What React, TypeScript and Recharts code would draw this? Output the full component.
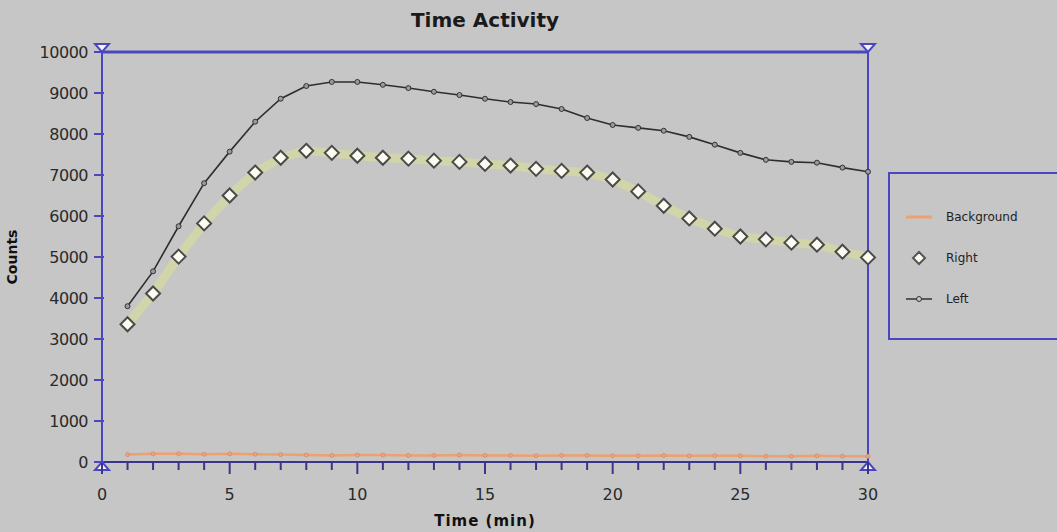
import React from 'react';
import { LineChart, Line, XAxis, YAxis, ReferenceDot, ReferenceLine } from 'recharts';

// time in minutes
const minutes = [1, 2, 3, 4, 5, 6, 7, 8, 9, 10, 11, 12, 13, 14, 15, 16, 17, 18, 19, 20, 21, 22, 23, 24, 25, 26, 27, 28, 29, 30];
const leftCounts = [3800, 4650, 5750, 6800, 7570, 8300, 8860, 9170, 9270, 9270, 9200, 9120, 9030, 8950, 8860, 8780, 8730, 8610, 8390, 8220, 8150, 8080, 7930, 7740, 7540, 7370, 7320, 7300, 7180, 7080];
const rightCounts = [3360, 4110, 5010, 5820, 6500, 7060, 7420, 7590, 7540, 7470, 7420, 7400, 7350, 7320, 7270, 7230, 7150, 7100, 7060, 6890, 6600, 6250, 5940, 5690, 5500, 5430, 5350, 5300, 5130, 4990];
const backgroundCounts = [180, 200, 200, 190, 200, 190, 180, 170, 160, 170, 170, 160, 160, 170, 160, 160, 150, 160, 160, 150, 150, 160, 150, 150, 150, 140, 140, 150, 140, 140];

const xTicks = [0, 1, 2, 3, 4, 5, 6, 7, 8, 9, 10, 11, 12, 13, 14, 15, 16, 17, 18, 19, 20, 21, 22, 23, 24, 25, 26, 27, 28, 29, 30];
const yTicks = [0, 1000, 2000, 3000, 4000, 5000, 6000, 7000, 8000, 9000, 10000];

const data = minutes.map((t, i) => ({
  t,
  background: backgroundCounts[i],
  right: rightCounts[i],
  left: leftCounts[i],
}));

const BG = '#c6c6c6';
const FRAME = '#4a46c0';
const AXIS = '#3c348a';
const FONT = '"DejaVu Sans", Verdana, sans-serif';

const YTick = ({ x, y, payload }: any) => (
  <g>
    <line x1={x} y1={y} x2={x + 10} y2={y} stroke={FRAME} strokeWidth={2} />
    <text x={x - 6} y={y + 6} textAnchor="end" fontSize={16} fill="#2a2a2a" fontFamily={FONT} letterSpacing={-0.5}>
      {payload.value}
    </text>
  </g>
);

const XTick = ({ x, y, payload }: any) => {
  const major = payload.value % 5 === 0;
  return (
    <g>
      <line x1={x} y1={y - 8} x2={x} y2={y + (major ? 4 : 0)} stroke={AXIS} strokeWidth={2} />
      {major && (
        <text x={x} y={y + 30} textAnchor="middle" fontSize={16} fill="#2a2a2a" fontFamily={FONT}>
          {payload.value}
        </text>
      )}
    </g>
  );
};

const Diamond = ({ cx, cy }: any) => {
  if (cx == null || cy == null) return null;
  const r = 7;
  return (
    <path
      d={`M${cx},${cy - r} L${cx + r},${cy} L${cx},${cy + r} L${cx - r},${cy} Z`}
      fill="#fbfbf2"
      stroke="#4a4a4a"
      strokeWidth={2}
    />
  );
};

const SmallCircle = ({ cx, cy }: any) => {
  if (cx == null || cy == null) return null;
  return <circle cx={cx} cy={cy} r={2.5} fill="#9a9a9a" stroke="#333" strokeWidth={1} />;
};

const OrangeDot = ({ cx, cy }: any) => {
  if (cx == null || cy == null) return null;
  return <circle cx={cx} cy={cy} r={2} fill="#eaa57e" stroke="#d98a63" strokeWidth={0.8} />;
};

const Triangle = ({ cx, cy, down }: any) => {
  if (cx == null || cy == null) return null;
  const w = 7;
  const d = down
    ? `M${cx - w},${cy - 8} L${cx + w},${cy - 8} L${cx},${cy} Z`
    : `M${cx - w},${cy + 8} L${cx + w},${cy + 8} L${cx},${cy} Z`;
  return <path d={d} fill="#f4f4ff" stroke={FRAME} strokeWidth={2} />;
};

function LegendBox() {
  const row = { display: 'flex', alignItems: 'center', height: 41 } as React.CSSProperties;
  const label = { fontSize: 12, color: '#222', fontFamily: FONT, marginLeft: 12 } as React.CSSProperties;
  return (
    <div
      style={{
        position: 'absolute',
        left: 888,
        top: 172,
        width: 180,
        height: 168,
        border: `2px solid ${FRAME}`,
        boxSizing: 'border-box',
        paddingTop: 22,
        paddingLeft: 14,
      }}
    >
      <div style={row}>
        <svg width={30} height={12}>
          <line x1={2} y1={6} x2={28} y2={6} stroke="#eda070" strokeWidth={3} />
        </svg>
        <span style={label}>Background</span>
      </div>
      <div style={row}>
        <svg width={30} height={16}>
          <path d="M15,2 L21,8 L15,14 L9,8 Z" fill="#fbfbf2" stroke="#555" strokeWidth={2} />
        </svg>
        <span style={label}>Right</span>
      </div>
      <div style={row}>
        <svg width={30} height={12}>
          <line x1={2} y1={6} x2={28} y2={6} stroke="#333" strokeWidth={1.5} />
          <circle cx={15} cy={6} r={2.5} fill="#c6c6c6" stroke="#333" strokeWidth={1} />
        </svg>
        <span style={label}>Left</span>
      </div>
    </div>
  );
}

export default function App() {
  return (
    <div style={{ position: 'fixed', left: 0, top: 0, width: 1057, height: 532, background: BG, overflow: 'hidden' }}>
      <div
        style={{
          position: 'absolute',
          left: 385,
          top: 8,
          width: 200,
          textAlign: 'center',
          fontFamily: FONT,
          fontWeight: 'bold',
          fontSize: 20,
          color: '#1a1a1a',
        }}
      >
        Time Activity
      </div>
      <LineChart
        width={1057}
        height={532}
        data={data}
        margin={{ top: 52, right: 189, bottom: 0, left: 0 }}
        style={{ position: 'absolute', left: 0, top: 0 }}
      >
        <XAxis
          dataKey="t"
          type="number"
          domain={[0, 30]}
          ticks={xTicks}
          interval={0}
          height={70}
          axisLine={{ stroke: AXIS, strokeWidth: 2 }}
          tickLine={false}
          tick={<XTick />}
          label={{
            value: 'Time (min)',
            position: 'insideBottom',
            offset: 6,
            style: { fontFamily: FONT, fontWeight: 'bold', fontSize: 15, fill: '#111', letterSpacing: 1 },
          }}
        />
        <YAxis
          type="number"
          domain={[0, 10000]}
          ticks={yTicks}
          interval={0}
          width={102}
          axisLine={{ stroke: FRAME, strokeWidth: 2 }}
          tickLine={false}
          tick={<YTick />}
          label={{
            value: 'Counts',
            angle: -90,
            position: 'insideLeft',
            offset: 12,
            style: { fontFamily: FONT, fontWeight: 'bold', fontSize: 14, fill: '#111', textAnchor: 'middle' },
          }}
        />
        <ReferenceLine y={10000} stroke={FRAME} strokeWidth={3} ifOverflow="visible" />
        <ReferenceLine x={30} stroke={FRAME} strokeWidth={2} ifOverflow="visible" />
        <Line
          dataKey="right"
          stroke="#d6d8a0"
          strokeWidth={9}
          strokeOpacity={0.75}
          dot={<Diamond />}
          activeDot={false}
          isAnimationActive={false}
        />
        <Line
          dataKey="left"
          stroke="#2e2e2e"
          strokeWidth={1.6}
          dot={<SmallCircle />}
          activeDot={false}
          isAnimationActive={false}
        />
        <Line
          dataKey="background"
          stroke="#eda070"
          strokeWidth={2.5}
          dot={<OrangeDot />}
          activeDot={false}
          isAnimationActive={false}
        />
        <ReferenceDot x={0} y={10000} ifOverflow="visible" shape={(p: any) => <Triangle {...p} down />} />
        <ReferenceDot x={30} y={10000} ifOverflow="visible" shape={(p: any) => <Triangle {...p} down />} />
        <ReferenceDot x={0} y={0} ifOverflow="visible" shape={(p: any) => <Triangle {...p} />} />
        <ReferenceDot x={30} y={0} ifOverflow="visible" shape={(p: any) => <Triangle {...p} />} />
      </LineChart>
      <LegendBox />
    </div>
  );
}
